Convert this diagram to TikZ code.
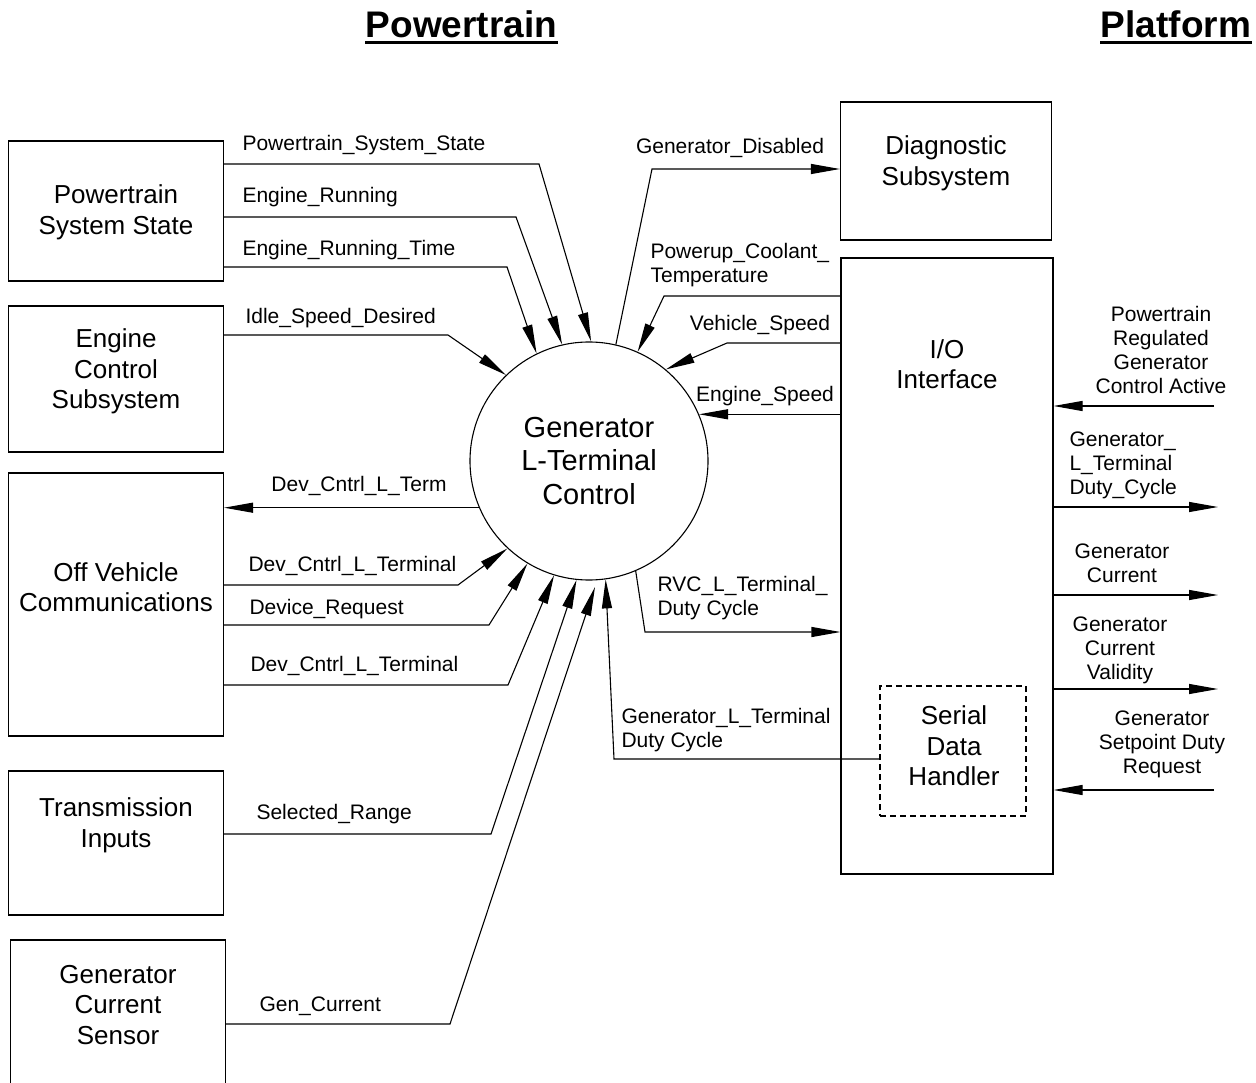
\documentclass[tikz,border=0pt]{standalone}
\usepackage{fontspec}
\setmainfont{Liberation Sans}
\usetikzlibrary{arrows.meta}
\newcommand{\sigfont}{\fontsize{21}{24}\selectfont}
\newcommand{\boxfont}{\fontsize{26}{30.5}\selectfont}
\newcommand{\circfont}{\fontsize{29}{33.5}\selectfont}
\newcommand{\headfont}{\fontsize{37}{42}\selectfont\bfseries}

\begin{document}
\begin{tikzpicture}[x=1pt, y=-1pt, line width=1.1pt,
    >={Triangle[length=29pt,width=10pt]},
    blk/.style={draw, inner sep=0pt, minimum width=215pt},
    btxt/.style={font=\boxfont, align=center, inner sep=0pt},
    sig/.style={font=\sigfont, inner sep=0pt, anchor=base west},
    sigm/.style={font=\sigfont, inner sep=0pt, align=left, anchor=west},
    sigc/.style={font=\sigfont, inner sep=0pt, align=center},
    head/.style={font=\headfont, inner sep=0pt, anchor=base}]
    \useasboundingbox (0,0) rectangle (1256,1083);
    % --- headings ---
    \node[head] (ptHead) at (461.5,37.5) {Powertrain};
    \node[head] (pfHead) at (1176,37.5) {Platform};
    \draw[line width=3pt] ([yshift=-5pt]ptHead.base west) -- ([yshift=-5pt]ptHead.base east);
    \draw[line width=3pt] ([yshift=-5pt]pfHead.base west) -- ([yshift=-5pt]pfHead.base east);
    % --- powertrain side blocks ---
    \node[blk, minimum height=140pt] (pss) at (116,211) {};
    \node[btxt] (pssT) at (116,212.5) {Powertrain\\System State};
    \node[blk, minimum height=146pt] (ecs) at (116,379) {};
    \node[btxt] (ecsT) at (116,371.5) {Engine\\Control\\Subsystem};
    \node[blk, minimum height=263pt] (ovc) at (116,604.5) {};
    \node[btxt] (ovcT) at (116,587) {Off Vehicle\\Communications};
    \node[blk, minimum height=144pt] (tri) at (116,843) {};
    \node[btxt] (triT) at (116,825.5) {Transmission\\Inputs};
    \node[blk, minimum height=170pt] (gcs) at (118,1025) {};
    \node[btxt] (gcsT) at (118,1005) {Generator\\Current\\Sensor};
    % --- platform side blocks ---
    \node[blk, minimum width=211pt, minimum height=138pt] (diag) at (946,171) {};
    \node[btxt] (diagT) at (946,163.5) {Diagnostic\\Subsystem};
    \node[blk, minimum width=212pt, minimum height=616pt] (io) at (947,566) {};
    \node[btxt] (ioT) at (947,364) {I/O\\Interface};
    \node[blk, dash pattern=on 6pt off 4pt, minimum width=146pt, minimum height=130pt] (sdh) at (953,751) {};
    \node[btxt] (sdhT) at (954,746) {Serial\\Data\\Handler};
    % --- central process ---
    \node[draw, circle, minimum size=238pt, inner sep=0pt, font=\circfont, align=center] (gen) at (589,461)
      {Generator\\L-Terminal\\Control};
    % --- inputs from the left ---
    \draw[->] (pss.east |- 0,164) -- (539,164) -- (gen.89);
    \node[sig] (lPss) at (242,151) {Powertrain\_System\_State};
    \draw[->] (pss.east |- 0,217) -- (516,217) -- (gen.103);
    \node[sig] (lEr) at (242,202.5) {Engine\_Running};
    \draw[->] (pss.east |- 0,267) -- (507,267) -- (gen.116);
    \node[sig] (lErt) at (242,255.5) {Engine\_Running\_Time};
    \draw[->] (ecs.east |- 0,335) -- (448,335) -- (gen.134);
    \node[sig] (lIsd) at (245,324) {Idle\_Speed\_Desired};
    \draw[->] (gen.203) -- (gen.203 -| ovc.east);
    \node[sig, anchor=base] (lDclt) at (359,491) {Dev\_Cntrl\_L\_Term};
    \draw[->] (ovc.east |- 0,585) -- (458,585) -- (gen.227);
    \node[sig] (lDcltA) at (248,571.5) {Dev\_Cntrl\_L\_Terminal};
    \draw[->] (ovc.east |- 0,625) -- (489,625) -- (gen.239);
    \node[sig] (lDr) at (249,614) {Device\_Request};
    \draw[->] (ovc.east |- 0,685) -- (508,685) -- (gen.253);
    \node[sig] (lDcltB) at (250,671.5) {Dev\_Cntrl\_L\_Terminal};
    \draw[->] (tri.east |- 0,834) -- (491,834) -- (gen.264);
    \node[sig] (lSr) at (256,819) {Selected\_Range};
    \coordinate (gcTip) at (595,587);
    \draw[->] (gcs.east |- 0,1024) -- (450,1024) -- (gcTip);
    \node[sig] (lGc) at (259,1011) {Gen\_Current};
    % --- exchange with the platform ---
    \draw[->] (gen.77) -- (652,169) -- (diag.west |- 0,169);
    \node[sig, anchor=base] (lGd) at (730,154) {Generator\_Disabled};
    \draw[->] (io.west |- 0,296) -- (664,296) -- (gen.66);
    \node[sigm] (lPct) at (650,265.5) {Powerup\_Coolant\_\\Temperature};
    \draw[->] (io.west |- 0,343) -- (727,343) -- (gen.50);
    \node[sig, anchor=base] (lVs) at (760,331) {Vehicle\_Speed};
    \draw[->] (gen.23 -| io.west) -- (gen.23);
    \node[sig, anchor=base] (lEs) at (765,401) {Engine\_Speed};
    \draw[->] (gen.293) -- (645,632) -- (io.west |- 0,632);
    \node[sigm] (lRvc) at (657,598) {RVC\_L\_Terminal\_\\Duty Cycle};
    \draw[->] (sdh.west |- 0,759) -- (614,759) -- (gen.278);
    \node[sigm] (lGltd) at (621,730) {Generator\_L\_Terminal\\Duty Cycle};
    % --- platform signals ---
    \coordinate (prgcaEnd) at (1214,406);
    \coordinate (dutyEnd) at (1218,507);
    \coordinate (curEnd) at (1218,595);
    \coordinate (valEnd) at (1218,689);
    \coordinate (setEnd) at (1214,790);
    \draw[->] (prgcaEnd) -- (io.east |- prgcaEnd);
    \node[sigc] (lPrgca) at (1161,350) {Powertrain\\Regulated\\Generator\\Control Active};
    \draw[->] (io.east |- dutyEnd) -- (dutyEnd);
    \node[sigm] (lDuty) at (1069,465) {Generator\_\\L\_Terminal\\Duty\_Cycle};
    \draw[->] (io.east |- curEnd) -- (curEnd);
    \node[sigc] (lCur) at (1122,563) {Generator\\Current};
    \draw[->] (io.east |- valEnd) -- (valEnd);
    \node[sigc] (lVal) at (1120,650) {Generator\\Current\\Validity};
    \draw[->] (setEnd) -- (io.east |- setEnd);
    \node[sigc] (lSet) at (1162,744) {Generator\\Setpoint Duty\\Request};
\end{tikzpicture}
\end{document}
